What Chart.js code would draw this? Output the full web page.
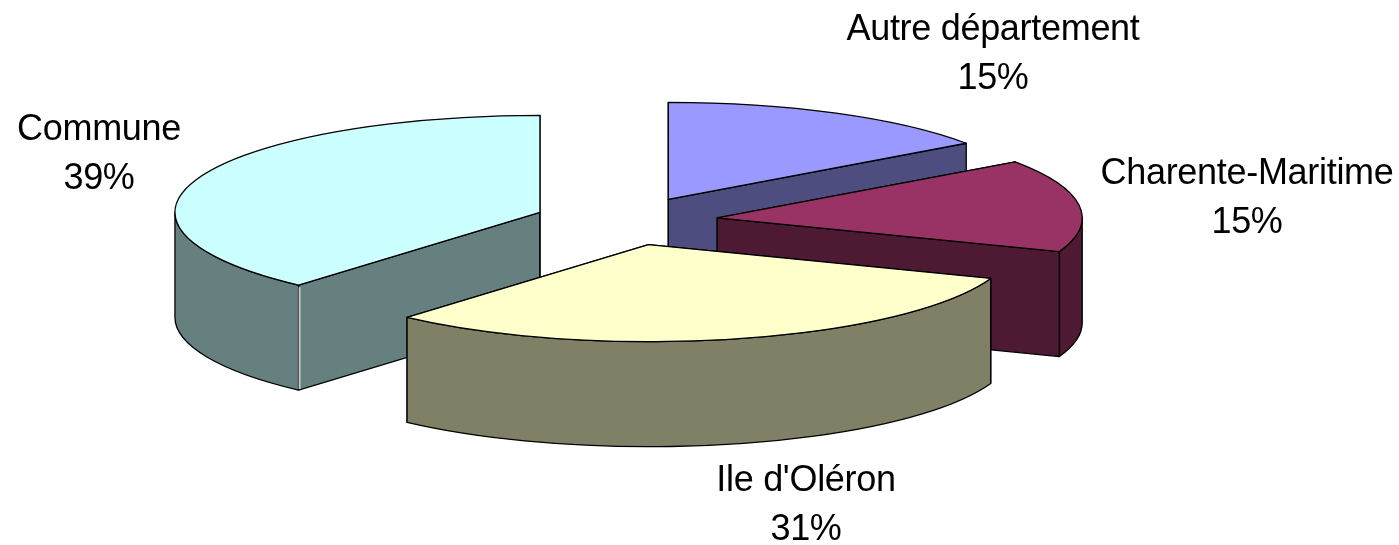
<!DOCTYPE html>
<html>
<head>
<meta charset="utf-8">
<style>
	html, body { margin: 0; padding: 0; background: #fff; }
	canvas { display: block; }
</style>
<script src="https://cdn.jsdelivr.net/npm/chart.js@4"></script>
</head>
<body>
<canvas id="chart" width="1399" height="545"></canvas>
<script>
const categories = ['Autre département', 'Charente-Maritime', "Ile d'Oléron", 'Commune'];
const shares = [15.2, 15.45, 30.85, 38.5];
const topColors = ['#9999ff', '#993366', '#ffffcc', '#ccffff'];
const sideColors = ['#4d4d80', '#4d1933', '#808066', '#668080'];

// the tilted look: pie is squashed to an ellipse and pulled down into a wall
const center = { x: 626, y: 221 };
const radiusX = 365;
const radiusY = 97;
const depth = 105;
const explode = 92;
const drawOrder = [0, 1, 3, 2];
const labelPos = [
	{ x: 993, y: 30 },
	{ x: 1247, y: 174 },
	{ x: 99, y: 130 },
	{ x: 806, y: 481 }
];
const labelSlice = [0, 1, 3, 2];

function outline(ctx, fill) {
	ctx.fillStyle = fill;
	ctx.fill();
	ctx.strokeStyle = '#000';
	ctx.lineWidth = 1.3;
	ctx.lineJoin = 'round';
	ctx.stroke();
}

function drawSlice(ctx, arc, i) {
	const mid = (arc.startAngle + arc.endAngle) / 2;
	const ax = center.x + Math.cos(mid) * explode;
	const ay = center.y + Math.sin(mid) * explode * radiusY / radiusX;
	const point = a => [ax + Math.cos(a) * radiusX, ay + Math.sin(a) * radiusY];

	// flat side walls
	[arc.startAngle, arc.endAngle].forEach(a => {
		const [px, py] = point(a);
		ctx.beginPath();
		ctx.moveTo(ax, ay);
		ctx.lineTo(px, py);
		ctx.lineTo(px, py + depth);
		ctx.lineTo(ax, ay + depth);
		ctx.closePath();
		outline(ctx, sideColors[i]);
	});

	// round wall, only the part that faces us
	const from = Math.max(arc.startAngle, 0);
	const to = Math.min(arc.endAngle, Math.PI);
	if (to > from) {
		ctx.beginPath();
		ctx.ellipse(ax, ay, radiusX, radiusY, 0, from, to);
		ctx.ellipse(ax, ay + depth, radiusX, radiusY, 0, to, from, true);
		ctx.closePath();
		outline(ctx, sideColors[i]);
	}

	// top face, the arc element itself under a transform
	ctx.save();
	ctx.translate(ax, ay);
	ctx.scale(radiusX / arc.outerRadius, radiusY / arc.outerRadius);
	ctx.translate(-arc.x, -arc.y);
	arc.draw(ctx);
	ctx.restore();

	ctx.beginPath();
	ctx.moveTo(ax, ay);
	ctx.ellipse(ax, ay, radiusX, radiusY, 0, arc.startAngle, arc.endAngle);
	ctx.closePath();
	ctx.strokeStyle = '#000';
	ctx.lineWidth = 1.3;
	ctx.stroke();

	// Commune has a light seam on its front corner
	if (i === 3) {
		const [px, py] = point(arc.startAngle);
		ctx.beginPath();
		ctx.moveTo(px + 1, py + 2);
		ctx.lineTo(px + 1, py + depth - 1);
		ctx.strokeStyle = '#c8c8c8';
		ctx.lineWidth = 2;
		ctx.stroke();
	}
}

const tiltedPie = {
	id: 'tiltedPie',
	beforeDatasetsDraw(chart) {
		const ctx = chart.ctx;
		const arcs = chart.getDatasetMeta(0).data;
		drawOrder.forEach(i => drawSlice(ctx, arcs[i], i));
		return false;
	},
	afterDraw(chart) {
		const ctx = chart.ctx;
		ctx.save();
		ctx.font = '36px "Liberation Sans", Arial, sans-serif';
		ctx.letterSpacing = '-0.3px';
		ctx.fillStyle = '#000';
		ctx.textAlign = 'center';
		ctx.textBaseline = 'middle';
		labelPos.forEach((pos, n) => {
			const i = labelSlice[n];
			ctx.fillText(categories[i], pos.x, pos.y);
			ctx.fillText(Math.round(shares[i]) + '%', pos.x, pos.y + 49);
		});
		ctx.restore();
	}
};

new Chart(document.getElementById('chart'), {
	type: 'pie',
	data: {
		labels: categories,
		datasets: [{
			data: shares,
			backgroundColor: topColors,
			borderWidth: 0
		}]
	},
	options: {
		responsive: false,
		animation: false,
		events: [],
		plugins: {
			legend: { display: false },
			tooltip: { enabled: false }
		}
	},
	plugins: [tiltedPie]
});
</script>
</body>
</html>
